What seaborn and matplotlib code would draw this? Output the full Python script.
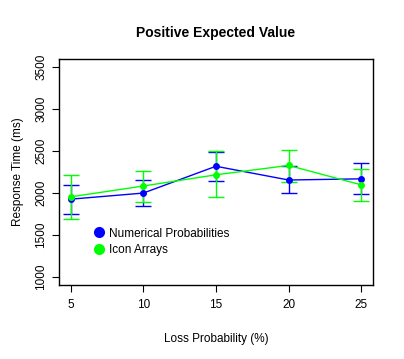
"""Positive expected value: response time by loss probability."""

import matplotlib

matplotlib.use("Agg")
import matplotlib.pyplot as plt
import pandas as pd
import seaborn as sns
from matplotlib.lines import Line2D

loss_prob = [5, 10, 15, 20, 25]

numerical_mean = [1925, 1998, 2318, 2154, 2168]
numerical_low = [1745, 1841, 2142, 1998, 1982]
numerical_high = [2090, 2154, 2494, 2320, 2360]

icon_mean = [1953, 2082, 2216, 2328, 2096]
icon_low = [1685, 1893, 1950, 2133, 1905]
icon_high = [2214, 2266, 2500, 2518, 2282]

series = {
    "Numerical Probabilities": (numerical_mean, numerical_low, numerical_high, "#0000FF"),
    "Icon Arrays": (icon_mean, icon_low, icon_high, "#00FF00"),
}

sns.set_style("ticks")
plt.rcParams["font.family"] = ["Liberation Sans", "DejaVu Sans"]
plt.rcParams["text.color"] = "black"
plt.rcParams["axes.labelcolor"] = "black"
plt.rcParams["xtick.color"] = "black"
plt.rcParams["ytick.color"] = "black"

fig = plt.figure(figsize=(4.04, 3.59), dpi=100)
ax = fig.add_axes([0.146, 0.206, 0.777, 0.630])

rows = []
for name, (mean, low, high, colour) in series.items():
    for x, m, lo, hi in zip(loss_prob, mean, low, high):
        rows.append({"loss": x, "rt": m, "low": lo, "high": hi, "series": name})
df = pd.DataFrame(rows)

palette = {name: vals[3] for name, vals in series.items()}
for name, (mean, low, high, colour) in series.items():
    sub = df[df["series"] == name]
    ax.errorbar(
        sub["loss"], sub["rt"],
        yerr=[sub["rt"] - sub["low"], sub["high"] - sub["rt"]],
        fmt="none", ecolor=colour, elinewidth=1.0, capsize=5.5, capthick=1.0,
    )
sns.lineplot(
    data=df, x="loss", y="rt", hue="series", palette=palette,
    marker="o", markersize=5, markeredgewidth=0, linewidth=1.0,
    ax=ax, legend=False, errorbar=None,
)

ax.set_xlim(4.2, 25.8)
ax.set_ylim(900, 3600)
ax.set_xticks(loss_prob)
ax.set_yticks([1000, 1500, 2000, 2500, 3000, 3500])
ax.tick_params(axis="both", labelsize=8.5, length=5, width=0.8, pad=5)
ax.tick_params(axis="y", pad=3.5)
plt.setp(ax.get_yticklabels(), rotation=90, va="center")
for spine in ax.spines.values():
    spine.set_linewidth(1.0)
    spine.set_color("black")

ax.set_xlabel("Loss Probability (%)", fontsize=8.5, labelpad=16)
ax.set_ylabel("Response Time (ms)", fontsize=8.5, labelpad=8)
ax.set_title("Positive Expected Value", fontsize=10, fontweight="bold", pad=16)

handles = [
    Line2D([], [], linestyle="none", marker="o", markersize=8,
           markerfacecolor=vals[3], markeredgewidth=0, label=name)
    for name, vals in series.items()
]
ax.legend(handles=handles, loc="upper left", bbox_to_anchor=(0.085, 0.275),
          frameon=False, fontsize=8.5, handletextpad=0.05, labelspacing=0.35,
          borderaxespad=0, handlelength=1.5)

fig.savefig("out.png", dpi=100)
